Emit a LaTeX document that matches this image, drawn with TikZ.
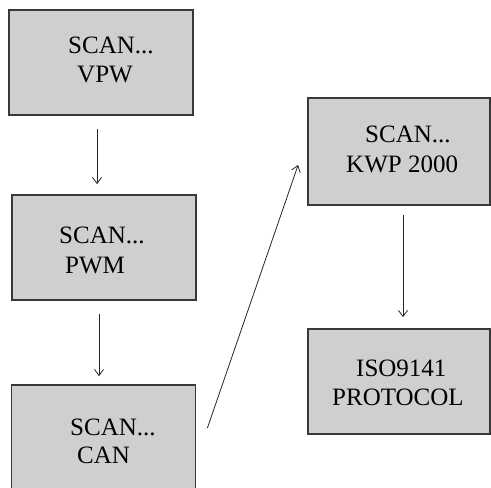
\documentclass[tikz,border=0pt]{standalone}
\usepackage{fontspec}
\setmainfont{Liberation Serif}
\usetikzlibrary{arrows.meta}
\begin{document}
\begin{tikzpicture}[x=1pt,y=-1pt,
  box/.style={draw=black!78,line width=1.8pt,fill=black!19,inner sep=0pt,minimum width=184pt,minimum height=105pt},
  txt/.style={inner sep=0pt,anchor=base west,font=\fontsize{25}{29}\selectfont,text=black},
  arr/.style={draw=black!85,line width=0.8pt,-{Straight Barb[length=6pt,width=9pt]}}]
\useasboundingbox (0,0) rectangle (491,488);
\clip (0,0) rectangle (491,488);
\node[box] (vpw) at (101,62.5) {};
\node[box] (pwm) at (104,247.5) {};
\node[box] (can) at (103.5,437.5) {};
\node[box,minimum width=182pt,minimum height=107pt] (kwp) at (399,151.5) {};
\node[box,minimum width=182pt] (iso) at (399,381.5) {};
\node[txt] (t1) at (68,53) {SCAN...};
\node[txt] (t2) at (77,82) {VPW};
\node[txt] (t3) at (59,243) {SCAN...};
\node[txt] (t4) at (65,273) {PWM};
\node[txt] (t5) at (70,435) {SCAN...};
\node[txt] (t6) at (77,463) {CAN};
\node[txt] (t7) at (365,142) {SCAN...};
\node[txt] (t8) at (346,172) {KWP 2000};
\node[txt] (t9) at (356,376) {ISO9141};
\node[txt] (t10) at (332,405) {PROTOCOL};
\draw[arr] ([shift={(-4,13)}]vpw.south) -- ([shift={(-7,-10)}]pwm.north);
\draw[arr] ([shift={(-5,13)}]pwm.south) -- ([shift={(-4.5,-8)}]can.north);
\draw[arr] ([shift={(4,9)}]kwp.south) -- ([shift={(4,-11)}]iso.north);
\draw[arr] ([shift={(11,-9.5)}]can.east) -- ([shift={(-9,13.5)}]kwp.west);
\end{tikzpicture}
\end{document}
